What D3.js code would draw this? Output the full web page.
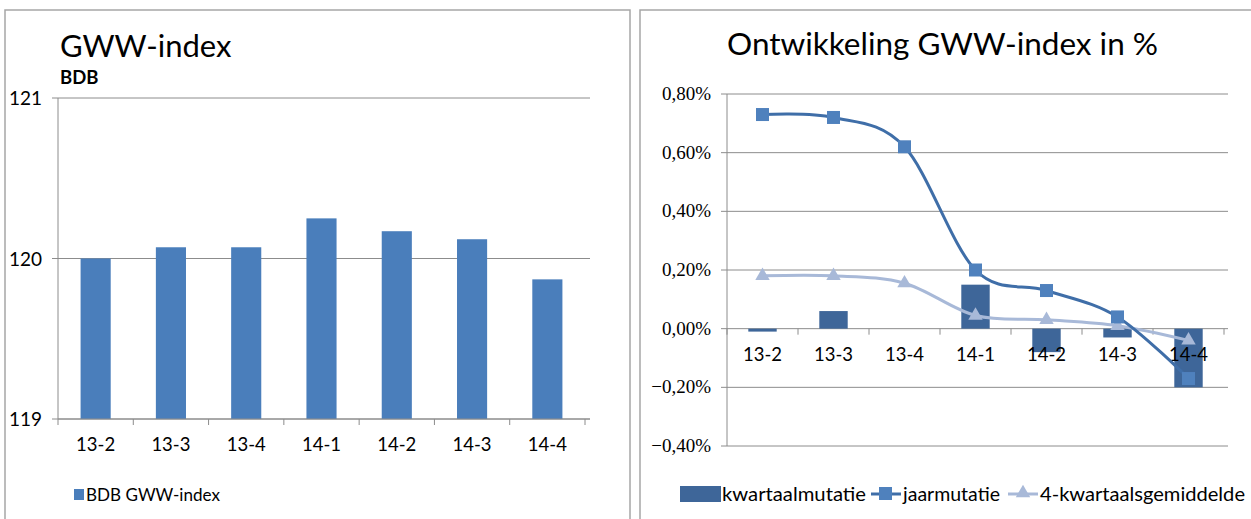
<!DOCTYPE html>
<html><head><meta charset="utf-8">
<script src="https://cdn.jsdelivr.net/npm/d3@7"></script>
<style>body{margin:0;background:#fff}svg{display:block}</style>
</head><body><svg id="c" width="1251" height="519"></svg>
<script>
const categories = ["13-2","13-3","13-4","14-1","14-2","14-3","14-4"];
const indexValues = [120.00,120.07,120.07,120.25,120.17,120.12,119.87];
const indexTicks = [119,120,121];
const kwartaal = [-0.0001,0.0006,0.0,0.0015,-0.0008,-0.0003,-0.0020];
const jaar = [0.0073,0.0072,0.0062,0.0020,0.0013,0.0004,-0.0017];
const gemiddelde = [0.0018,0.0018,0.00155,0.00045,0.0003,0.0001,-0.0004];
const pctTicks = [-0.004,-0.002,0,0.002,0.004,0.006,0.008];

const svg = d3.select("#c");
const font = "Lato, 'Open Sans', sans-serif";
svg.append("rect").attr("width",1251).attr("height",519).attr("fill","#fff");
// panel borders
svg.append("rect").attr("x",5).attr("y",10).attr("width",625).attr("height",530)
  .attr("fill","none").attr("stroke","#a6a6a6").attr("stroke-width",1.5);
svg.append("rect").attr("x",640).attr("y",10).attr("width",640).attr("height",530)
  .attr("fill","none").attr("stroke","#a6a6a6").attr("stroke-width",1.5);

// ---------- left chart ----------
const xL = d3.scaleBand().domain(categories).range([58,585]).paddingInner(0.6).paddingOuter(0.3);
const xLb = d3.scaleBand().domain(categories).range([58,585]);
const yL = d3.scaleLinear().domain([119,121]).range([419,98]);
const gL = svg.append("g");
gL.selectAll("line.grid").data(indexTicks).join("line")
  .attr("x1",52).attr("x2",590).attr("y1",d=>yL(d)).attr("y2",d=>yL(d))
  .attr("stroke","#8c8c8c").attr("stroke-width",1);
gL.append("line").attr("x1",58).attr("x2",58).attr("y1",98).attr("y2",419).attr("stroke","#8c8c8c");
gL.selectAll("rect.bar").data(indexValues).join("rect")
  .attr("x",(d,i)=>xL(categories[i])).attr("width",xL.bandwidth())
  .attr("y",d=>yL(d)).attr("height",d=>yL(119)-yL(d)).attr("fill","#4a7ebb");
const gax = gL.append("g").attr("transform","translate(0,419)");
gax.append("line").attr("x1",58).attr("x2",590).attr("stroke","#8c8c8c");
gax.selectAll("line.t").data(d3.range(8)).join("line")
  .attr("x1",i=>58+i*xLb.step()).attr("x2",i=>58+i*xLb.step()).attr("y1",0).attr("y2",6).attr("stroke","#8c8c8c");
gax.selectAll("text").data(categories).join("text")
  .attr("x",d=>xLb(d)+xLb.bandwidth()/2).attr("y",32).attr("text-anchor","middle")
  .attr("font-family",font).attr("font-size",18.5).attr("fill","#000").text(d=>d);
gL.selectAll("text.yt").data(indexTicks).join("text")
  .attr("x",42).attr("y",d=>yL(d)+7).attr("text-anchor","end")
  .attr("font-family",font).attr("font-size",19).text(d=>d);
gL.append("text").attr("x",60).attr("y",57).attr("font-family",font).attr("font-size",31).text("GWW-index");
gL.append("text").attr("x",60).attr("y",84).attr("font-family",font).attr("font-size",18.5).attr("font-weight","bold").text("BDB");
gL.append("rect").attr("x",74).attr("y",489).attr("width",10).attr("height",11).attr("fill","#4a7ebb");
gL.append("text").attr("x",86).attr("y",501).attr("font-family",font).attr("font-size",18)
  .attr("textLength",134).attr("lengthAdjust","spacingAndGlyphs").text("BDB GWW-index");

// ---------- right chart ----------
const xR = d3.scaleBand().domain(categories).range([727,1224]);
const yR = d3.scaleLinear().domain([-0.004,0.008]).range([446,94]);
const gR = svg.append("g");
gR.selectAll("line.grid").data(pctTicks).join("line")
  .attr("x1",721).attr("x2",1228).attr("y1",d=>yR(d)).attr("y2",d=>yR(d))
  .attr("stroke","#8c8c8c").attr("stroke-width",1);
gR.append("line").attr("x1",727).attr("x2",727).attr("y1",94).attr("y2",446).attr("stroke","#8c8c8c");
gR.selectAll("line.t").data(d3.range(8)).join("line")
  .attr("x1",i=>727+i*xR.step()).attr("x2",i=>727+i*xR.step()).attr("y1",yR(0)).attr("y2",yR(0)+6).attr("stroke","#8c8c8c");
const fmt = d=> d3.format(".2f")(d*100).replace(".",",")+"%";
gR.selectAll("text.yt").data(pctTicks).join("text")
  .attr("x",711).attr("y",d=>yR(d)+6).attr("text-anchor","end")
  .attr("font-family","'Liberation Serif', serif").attr("font-size",19).text(fmt);
const bw = xR.bandwidth()*0.4;
gR.selectAll("rect.bar").data(kwartaal).join("rect")
  .attr("x",(d,i)=>xR(categories[i])+xR.bandwidth()/2-bw/2).attr("width",bw)
  .attr("y",d=>yR(Math.max(0,d))).attr("height",d=>Math.abs(yR(d)-yR(0))).attr("fill","#3e6699");
gR.selectAll("text.xt").data(categories).join("text")
  .attr("x",d=>xR(d)+xR.bandwidth()/2).attr("y",yR(0)+32).attr("text-anchor","middle")
  .attr("font-family",font).attr("font-size",18.5).text(d=>d);
const cx = (d,i)=>xR(categories[i])+xR.bandwidth()/2;
const line = d3.line().x(cx).y(d=>yR(d)).curve(d3.curveCatmullRom.alpha(0));
gR.append("path").attr("d",line(gemiddelde)).attr("fill","none").attr("stroke","#a8b9d8").attr("stroke-width",3);
gR.append("path").attr("d",line(jaar)).attr("fill","none").attr("stroke","#3f6ea8").attr("stroke-width",3);
const tri = d3.symbol().type(d3.symbolTriangle).size(90);
gR.selectAll("path.tri").data(gemiddelde).join("path")
  .attr("d",tri).attr("transform",(d,i)=>`translate(${cx(d,i)},${yR(d)})`).attr("fill","#a8b9d8");
gR.selectAll("rect.sq").data(jaar).join("rect")
  .attr("x",(d,i)=>cx(d,i)-6.5).attr("y",d=>yR(d)-6.5).attr("width",13).attr("height",13).attr("fill","#4f81bd");
gR.append("text").attr("x",727).attr("y",55).attr("font-family",font).attr("font-size",31)
  .attr("textLength",431).attr("lengthAdjust","spacingAndGlyphs").text("Ontwikkeling GWW-index in %");
// legend
const lg = gR.append("g");
lg.append("rect").attr("x",680).attr("y",486).attr("width",41).attr("height",16).attr("fill","#3e6699");
lg.append("text").attr("x",722).attr("y",501).attr("font-family",font).attr("font-size",19)
  .attr("textLength",144).attr("lengthAdjust","spacingAndGlyphs").text("kwartaalmutatie");
lg.append("line").attr("x1",871).attr("x2",901).attr("y1",494).attr("y2",494).attr("stroke","#3f6ea8").attr("stroke-width",3);
lg.append("rect").attr("x",879).attr("y",487).attr("width",13).attr("height",13).attr("fill","#4f81bd");
lg.append("text").attr("x",903).attr("y",501).attr("font-family",font).attr("font-size",19)
  .attr("textLength",97).attr("lengthAdjust","spacingAndGlyphs").text("jaarmutatie");
lg.append("line").attr("x1",1008).attr("x2",1038).attr("y1",494).attr("y2",494).attr("stroke","#a8b9d8").attr("stroke-width",3);
lg.append("path").attr("d",tri).attr("transform","translate(1023,493)").attr("fill","#a8b9d8");
lg.append("text").attr("x",1040).attr("y",501).attr("font-family",font).attr("font-size",19)
  .attr("textLength",205).attr("lengthAdjust","spacingAndGlyphs").text("4-kwartaalsgemiddelde");
</script></body></html>
